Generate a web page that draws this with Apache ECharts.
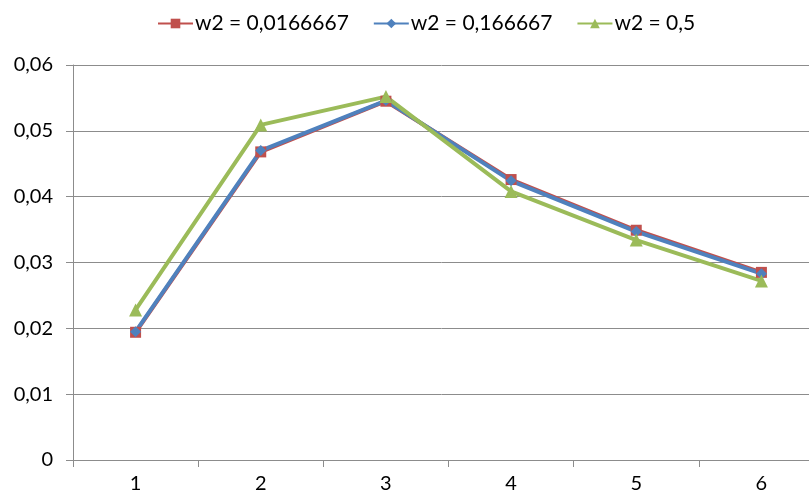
<!DOCTYPE html>
<html>
<head>
<meta charset="utf-8">
<script src="https://cdn.jsdelivr.net/npm/echarts@6/dist/echarts.min.js"></script>
<style>
  html, body { margin: 0; padding: 0; background: #fff; }
  #chart { width: 809px; height: 499px; }
</style>
</head>
<body>
<div id="chart"></div>
<script>
  // data
  const categories = ['1', '2', '3', '4', '5', '6'];
  const seriesNames = ['w2 = 0,0166667', 'w2 = 0,166667', 'w2 = 0,5'];
  const redValues = [0.0194, 0.0468, 0.0545, 0.0426, 0.0349, 0.0285];
  const blueValues = [0.0195, 0.0470, 0.0546, 0.0424, 0.0347, 0.0283];
  const greenValues = [0.0228, 0.0509, 0.0552, 0.0408, 0.0334, 0.0272];
  const yTicks = { min: 0, max: 0.06, interval: 0.01 };

  const font = 'Lato, "Open Sans", sans-serif';
  const gridColor = '#8c8c8c';

  const myChart = echarts.init(document.getElementById('chart'));

  const mkSeries = (name, data, color, symbol, size) => ({
    name: name,
    type: 'line',
    data: data,
    symbol: symbol,
    symbolSize: size,
    showAllSymbol: true,
    lineStyle: { color: color, width: 4 },
    itemStyle: { color: color }
  });

  const options = {
    animation: false,
    legend: {
      top: 8,
      left: 152,
      itemWidth: 35,
      itemHeight: 12,
      itemGap: 24,
      textStyle: { fontFamily: font, fontSize: 21, color: '#000', padding: [0, 0, 0, -3] },
      data: seriesNames
    },
    grid: {
      left: 73,
      top: 65,
      right: -15,
      bottom: 39,
      containLabel: false,
      outerBoundsMode: 'none'
    },
    xAxis: {
      type: 'category',
      data: categories,
      boundaryGap: true,
      axisLine: { lineStyle: { color: gridColor, width: 1 } },
      axisTick: { show: true, length: 7, lineStyle: { color: gridColor } },
      axisLabel: { color: '#000', fontFamily: font, fontSize: 20, margin: 14 },
      splitLine: { show: false }
    },
    yAxis: {
      type: 'value',
      min: yTicks.min,
      max: yTicks.max,
      interval: yTicks.interval,
      axisLine: { show: true, lineStyle: { color: gridColor, width: 1 } },
      axisTick: { show: true, length: 7, lineStyle: { color: gridColor } },
      axisLabel: {
        color: '#000',
        fontFamily: font,
        fontSize: 20,
        margin: 20,
        formatter: v => v === 0 ? '0' : v.toFixed(2).replace('.', ',')
      },
      splitLine: { show: true, lineStyle: { color: gridColor, width: 1 } }
    },
    series: [
      mkSeries(seriesNames[0], redValues, '#C0504D', 'rect', 11),
      mkSeries(seriesNames[1], blueValues, '#4F81BD', 'diamond', 11),
      mkSeries(seriesNames[2], greenValues, '#9BBB59', 'triangle', 13)
    ]
  };
  myChart.setOption(options);
</script>
</body>
</html>
